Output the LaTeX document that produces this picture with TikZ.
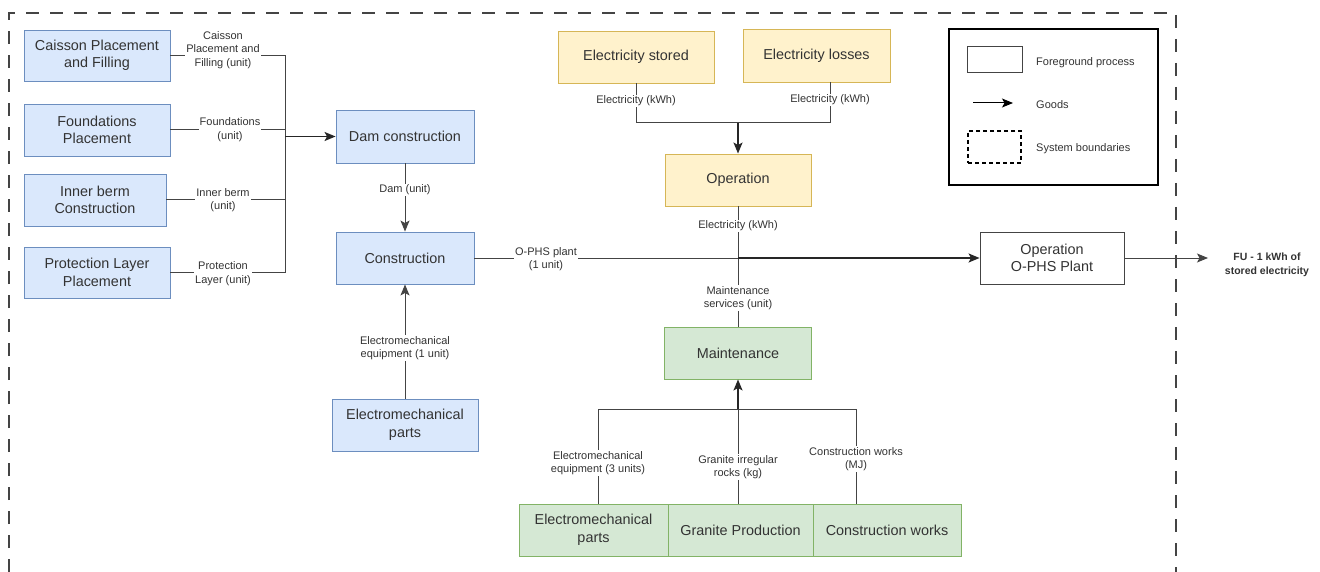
\documentclass[tikz,border=0pt]{standalone}
\usepackage{fontspec}
\setmainfont{Liberation Sans}
\usetikzlibrary{arrows.meta}
\definecolor{bluef}{HTML}{DAE8FC}
\definecolor{blued}{HTML}{6C8EBF}
\definecolor{yelf}{HTML}{FFF2CC}
\definecolor{yeld}{HTML}{D6B656}
\definecolor{grnf}{HTML}{D5E8D4}
\definecolor{grnd}{HTML}{82B366}
\definecolor{txt}{HTML}{333333}
\definecolor{ln}{HTML}{444444}
\begin{document}
\begin{tikzpicture}[x=1pt,y=-1pt,
  box/.style={draw,line width=0.9pt,align=center,inner sep=2pt,text=txt,font=\fontsize{14.4}{17.5}\selectfont},
  bluebox/.style={box,fill=bluef,draw=blued},
  yelbox/.style={box,fill=yelf,draw=yeld},
  grnbox/.style={box,fill=grnf,draw=grnd},
  whitebox/.style={box,fill=white,draw=ln},
  conn/.style={draw=ln,line width=1pt},
  arr/.style={conn,-{Stealth[length=11pt,width=9pt,inset=2.5pt]}},
  shared/.style={line width=1.6pt,draw=black!85},
  lbl/.style={fill=white,inner sep=1pt,align=center,text=txt,font=\fontsize{11}{13.5}\selectfont},
  legtxt/.style={anchor=west,inner sep=0pt,text=txt,font=\fontsize{11}{13.5}\selectfont}
]
\useasboundingbox (0,0) rectangle (1320,572);
\fill[white] (0,0) rectangle (1320,572);

% system boundary
\draw[ln,line width=1.2pt,dash pattern=on 13pt off 11pt] (9,572) -- (9,13) -- (1176,13) -- (1176,572);

% left column
\node[bluebox,minimum width=146pt,minimum height=51pt] (caisson) at (97,55.5) {Caisson Placement\\and Filling};
\node[bluebox,minimum width=146pt,minimum height=52pt] (found) at (97,130) {Foundations\\Placement};
\node[bluebox,minimum width=142pt,minimum height=52pt] (berm) at (95,200) {Inner berm\\Construction};
\node[bluebox,minimum width=146pt,minimum height=51pt] (prot) at (97,272.5) {Protection Layer\\Placement};

\node[bluebox,minimum width=138pt,minimum height=53pt] (dam) at (405,136.5) {Dam construction};
\node[bluebox,minimum width=138pt,minimum height=52pt] (constr) at (405,258) {Construction};
\node[bluebox,minimum width=146pt,minimum height=52pt] (emparts) at (405,425) {Electromechanical\\parts};

\node[yelbox,minimum width=156pt,minimum height=52pt] (estored) at (636,57) {Electricity stored};
\node[yelbox,minimum width=147pt,minimum height=53pt] (elosses) at (816.5,55.5) {Electricity losses};
\node[yelbox,minimum width=146pt,minimum height=52pt] (oper) at (738,180) {Operation};

\node[whitebox,minimum width=144pt,minimum height=52pt] (ophs) at (1052,258) {Operation\\O-PHS Plant};

\node[grnbox,minimum width=147pt,minimum height=52pt] (maint) at (738,353) {Maintenance};
\node[grnbox,minimum width=149pt,minimum height=52pt] (em2) at (593.5,530) {Electromechanical\\parts};
\node[grnbox,minimum width=145pt,minimum height=52pt] (granite) at (740.5,530) {Granite Production};
\node[grnbox,minimum width=148pt,minimum height=52pt] (cworks) at (887,530) {Construction works};

% junctions
\coordinate (jdam) at (285,136.5);
\coordinate (jop) at (738,123);
\coordinate (jph) at (738,258);
\coordinate (jm) at (738,409);

% left bus to dam construction
\draw[conn] (caisson.east) -| (jdam);
\draw[conn] (found.east) -| (jdam);
\draw[conn] (berm.east) -| (jdam);
\draw[conn] (prot.east) -| (jdam);
\draw[arr,shared] (jdam) -- (dam.west);
\node[lbl] (lcaisson) at (223,50) {Caisson\\Placement and\\Filling (unit)};
\node[lbl] (lfound) at (230,129.5) {Foundations\\(unit)};
\node[lbl] (lberm) at (223,200) {Inner berm\\(unit)};
\node[lbl] (lprot) at (223,273.5) {Protection\\Layer (unit)};

% dam -> construction
\draw[arr] (dam.south) -- (constr.north);
\node[lbl] (ldam) at (405,190) {Dam (unit)};

% electromechanical parts -> construction
\draw[arr] (emparts.north) -- (constr.south);
\node[lbl] (lem) at (405,348) {Electromechanical\\equipment (1 unit)};

% electricity -> operation
\draw[conn] (estored.south) |- (jop);
\draw[conn] ([xshift=13.5pt]elosses.south) |- (jop);
\draw[arr,shared] (jop) -- (oper.north);
\node[lbl] (lestored) at (636,101) {Electricity (kWh)};
\node[lbl] (lelosses) at (830,100) {Electricity (kWh)};

% flows into O-PHS operation
\draw[conn] (constr.east) -- (jph);
\draw[conn] (oper.south) -- (jph);
\draw[conn] (maint.north) -- (jph);
\draw[arr,shared] (jph) -- (ophs.west);
\node[lbl] (lophs) at (546,259) {O-PHS plant\\(1 unit)};
\node[lbl] (loper) at (738,226) {Electricity (kWh)};
\node[lbl] (lmaint) at (738,298) {Maintenance\\services (unit)};

% bottom bus to maintenance
\draw[conn] ([xshift=4.5pt]em2.north) |- (jm);
\draw[conn] (granite.north -| jm) -- (jm);
\draw[conn] ([xshift=-31pt]cworks.north) |- (jm);
\draw[arr,shared] (jm) -- (maint.south -| jm);
\node[lbl] (lem2) at (598,463) {Electromechanical\\equipment (3 units)};
\node[lbl] (lgran) at (738,467) {Granite irregular\\rocks (kg)};
\node[lbl] (lcw) at (856,459) {Construction works\\(MJ)};

% functional unit
\node[align=center,inner sep=1pt,text=txt,font=\bfseries\fontsize{10.5}{14}\selectfont] (fu) at (1267,265) {FU - 1 kWh of\\stored electricity};
\coordinate (fuin) at (1208,258);
\draw[arr] (ophs.east) -- (fuin);

% legend
\node[draw=black,line width=2.6pt,minimum width=209pt,minimum height=156pt] (legend) at (1053.5,107) {};
\node[draw=ln,line width=1pt,fill=white,minimum width=55pt,minimum height=26pt] (legfg) at (994.5,60) {};
\node[legtxt] (legfgt) at (1036,63) {Foreground process};
\coordinate (ga) at (973,103);
\coordinate (gb) at (1013,103);
\draw[arr,draw=black] (ga) -- (gb);
\node[legtxt] (leggt) at (1036,105) {Goods};
\node[draw=black,line width=2pt,dash pattern=on 4pt off 3pt,minimum width=53pt,minimum height=32pt] (legsb) at (994.5,147) {};
\node[legtxt] (legsbt) at (1036,149) {System boundaries};
\end{tikzpicture}
\end{document}
